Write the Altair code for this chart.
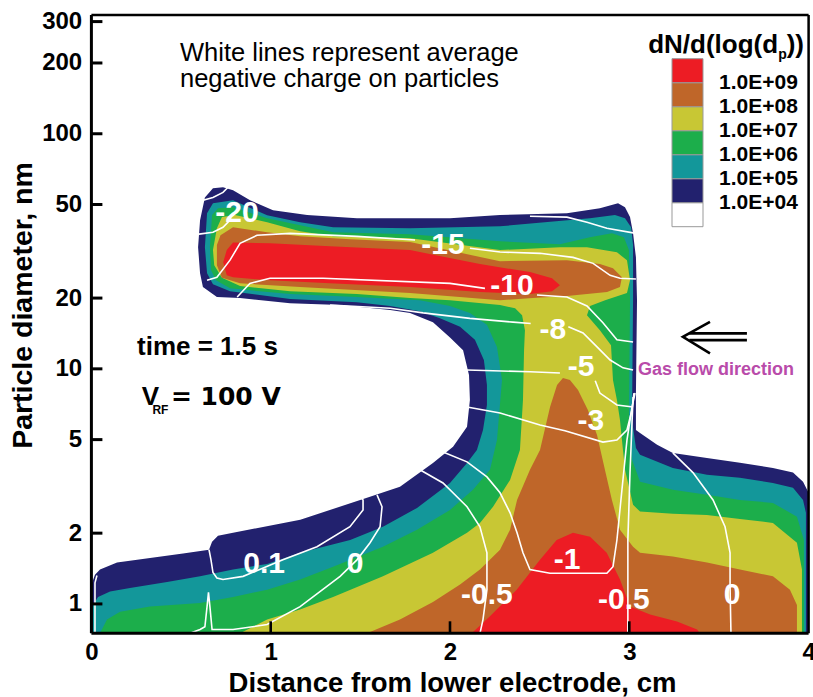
import altair as alt
import pandas as pd

W, H = 717.2, 618.3

# ---- filled contour regions of dN/d(log(dp)); x in cm, y in nm ----
NAVY = [(0, 0.75), (0, 1.21), (0.02, 1.33), (0.048, 1.40), (0.143, 1.50), (0.327, 1.57), (0.511, 1.64),
        (0.656, 1.70), (0.673, 1.84), (0.706, 1.95), (0.79, 2.01), (1.165, 2.28), (1.537, 2.83), (1.721, 3.15),
        (1.905, 3.98), (2.017, 4.66), (2.095, 5.67), (2.111, 7.37), (2.106, 9.41), (2.073, 12.0), (2.0, 13.6),
        (1.905, 15.8), (1.777, 17.3), (1.666, 17.8), (1.387, 18.7), (1.108, 19.0), (0.829, 20.0), (0.70, 20.2),
        (0.622, 22.3), (0.606, 25.5), (0.595, 32.9), (0.606, 42.9), (0.633, 53.6), (0.678, 58.6), (0.734, 59.2),
        (0.79, 57.5), (0.885, 52.1), (1.013, 47.3), (1.203, 45.1), (1.481, 43.7), (2.0, 43.7), (2.279, 45.1),
        (2.652, 45.9), (2.836, 48.2), (2.937, 50.6), (2.976, 48.7), (3.004, 44.2), (3.021, 37.7), (3.037, 29.8),
        (3.043, 19.6), (3.037, 7.89), (3.037, 5.49), (3.06, 5.34), (3.155, 4.75), (3.243, 4.39), (3.433, 4.18),
        (3.617, 3.99), (3.801, 3.79), (3.913, 3.62), (3.969, 3.31), (4.0, 2.97), (4.0, 0.75)]
TEAL = [(0.009, 0.75), (0.009, 0.99), (0.037, 1.07), (0.104, 1.13), (0.215, 1.17), (0.422, 1.24), (0.606, 1.31),
        (0.79, 1.40), (0.98, 1.48), (1.164, 1.65), (1.443, 1.87), (1.626, 2.13), (1.816, 2.56), (2.0, 3.27),
        (2.095, 3.98), (2.15, 4.52), (2.184, 5.49), (2.206, 7.02), (2.206, 8.53), (2.189, 10.9), (2.139, 13.3),
        (2.056, 15.1), (1.944, 16.4), (1.832, 17.6), (1.666, 18.5), (1.481, 19.2), (1.108, 19.8), (0.773, 21.4),
        (0.678, 22.9), (0.645, 25.5), (0.633, 32.9), (0.645, 45.9), (0.678, 50.6), (0.79, 52.1), (0.98, 45.0),
        (1.164, 42.0), (1.348, 40.0), (1.777, 39.6), (2.279, 40.4), (2.78, 43.7), (2.92, 45.1), (2.976, 43.7),
        (3.01, 40.0), (3.021, 33.6), (3.021, 19.6), (3.015, 6.06), (3.037, 4.61), (3.06, 4.31), (3.243, 3.79),
        (3.433, 3.54), (3.617, 3.44), (3.801, 3.27), (3.913, 3.12), (3.969, 2.77), (3.985, 2.44), (3.985, 0.75)]
GREEN = [(0.048, 0.75), (0.087, 0.858), (0.16, 0.927), (0.327, 0.974), (0.606, 1.01), (0.79, 1.07), (0.98, 1.15),
         (1.164, 1.27), (1.348, 1.44), (1.626, 1.75), (1.816, 2.07), (2.0, 2.51), (2.128, 3.06), (2.223, 3.72),
         (2.262, 4.98), (2.29, 8.96), (2.262, 12.4), (2.206, 15.4), (2.111, 17.3), (2.0, 18.5), (1.832, 19.6),
         (1.481, 20.2), (1.108, 20.8), (0.773, 22.0), (0.695, 23.8), (0.667, 26.3), (0.661, 32.9), (0.673, 45.1),
         (0.706, 48.2), (0.79, 48.7), (0.98, 43.7), (1.164, 40.8), (1.348, 38.1), (1.777, 37.4), (2.279, 34.9),
         (2.613, 33.9), (2.78, 36.3), (2.903, 37.7), (2.97, 36.3), (2.998, 32.0), (3.004, 19.6), (2.998, 6.06),
         (3.015, 4.10), (3.06, 3.31), (3.243, 3.06), (3.433, 2.91), (3.617, 2.77), (3.801, 2.69), (3.935, 2.35),
         (3.974, 1.87), (3.974, 0.75)]
YELLOW = [(0.829, 0.75), (0.98, 0.858), (1.164, 0.946), (1.348, 1.07), (1.626, 1.31), (1.905, 1.65), (2.095, 2.01),
          (2.167, 2.21), (2.24, 2.59), (2.335, 3.37), (2.39, 4.52), (2.407, 7.37), (2.413, 12.0), (2.418, 14.6),
          (2.402, 16.9), (2.363, 18.1), (2.279, 18.7), (2.0, 19.6), (1.777, 20.0), (1.481, 20.8), (1.108, 21.4),
          (0.829, 22.5), (0.728, 24.4), (0.685, 27.6), (0.678, 32.0), (0.70, 39.6), (0.728, 44.2), (0.801, 45.1),
          (0.98, 42.0), (1.164, 38.5), (1.348, 36.6), (1.777, 35.9), (2.279, 32.0), (2.613, 32.9), (2.764, 32.9),
          (2.931, 31.3), (2.987, 29.0), (3.004, 23.8), (2.987, 21.0), (2.865, 19.6), (2.781, 18.5), (2.764, 16.9),
          (2.836, 14.6), (2.898, 12.6), (2.909, 8.96), (2.931, 7.37), (2.948, 6.06), (2.959, 4.98), (2.976, 3.72),
          (3.021, 2.64), (3.06, 2.47), (3.243, 2.42), (3.433, 2.39), (3.617, 2.30), (3.801, 2.21), (3.935, 1.82),
          (3.963, 1.40), (3.963, 0.75)]
BROWN_ARM = [(0.70, 33.6), (0.72, 37.0), (0.79, 40.0), (0.98, 38.1), (1.164, 36.6), (1.443, 35.6), (1.777, 34.6),
             (2.279, 28.7), (2.652, 29.0), (2.836, 27.9), (2.909, 26.8), (2.959, 24.5), (2.948, 22.3), (2.876, 21.2),
             (2.652, 20.4), (2.462, 20.0), (2.279, 19.6), (1.777, 21.0), (1.164, 22.3), (0.829, 23.1), (0.728, 24.4),
             (0.70, 27.6)]
BROWN_LOW = [(1.537, 0.75), (1.721, 0.858), (1.905, 1.02), (2.056, 1.21), (2.167, 1.40), (2.279, 1.70), (2.335, 2.07),
             (2.374, 2.77), (2.446, 3.72), (2.502, 4.52), (2.558, 6.88), (2.597, 8.53), (2.63, 9.14), (2.669, 8.96),
             (2.714, 8.13), (2.769, 6.68), (2.82, 5.23), (2.864, 3.72), (2.903, 2.77), (2.948, 2.07), (3.021, 1.75),
             (3.06, 1.65), (3.243, 1.59), (3.433, 1.50), (3.617, 1.40), (3.801, 1.31), (3.896, 1.15), (3.935, 0.99),
             (3.935, 0.75)]
RED_ARM = [(0.735, 28.4), (0.755, 32.0), (0.79, 34.5), (0.996, 34.2), (1.33, 33.2), (1.777, 32.0), (2.167, 27.9),
           (2.446, 25.8), (2.569, 24.3), (2.613, 22.7), (2.569, 21.4), (2.446, 20.8), (2.167, 21.2), (1.777, 22.3),
           (1.33, 23.1), (0.996, 23.8), (0.79, 24.5), (0.755, 25.0)]
RED_LOW = [(2.121, 0.75), (2.223, 0.886), (2.372, 1.15), (2.502, 1.54), (2.595, 1.87), (2.686, 2.01), (2.781, 1.93),
           (2.874, 1.65), (2.948, 1.27), (3.004, 0.974), (3.116, 0.901), (3.266, 0.841), (3.378, 0.778), (3.394, 0.75)]

LEVELS = [4, 5, 6, 7, 8, 9]          # log10 of dN/d(log(dp)) thresholds
LEVEL_COLORS = ["#FFFFFF", "#22216E", "#13979A", "#1CAE4B", "#C8C734", "#BF6629", "#ED1C24"]
REGIONS = [(4, [NAVY]), (5, [TEAL]), (6, [GREEN]), (7, [YELLOW]), (8, [BROWN_ARM, BROWN_LOW]), (9, [RED_ARM, RED_LOW])]

# ---- white lines: average negative charge ----
CHARGE_LINES = {
    "m20a": [(0.623, 52.1), (0.678, 53.6), (0.734, 56.3), (0.762, 59.2)],
    "m20b": [(0.600, 37.4), (0.678, 38.1), (0.734, 40.0), (0.773, 42.9)],
    "m20c": [(2.446, 44.6), (2.652, 44.2), (2.764, 42.0), (2.875, 39.6), (3.037, 37.7)],
    "m15a": [(0.645, 23.8), (0.700, 24.5), (0.773, 29.0), (0.829, 34.2), (0.924, 37.0), (1.108, 37.7), (1.481, 36.6),
             (1.805, 35.3)],
    "m15b": [(2.111, 32.6), (2.279, 31.4), (2.502, 31.0), (2.686, 29.8), (2.798, 28.1), (2.893, 25.0), (2.948, 24.3),
             (3.037, 24.1)],
    "m10a": [(0.813, 20.2), (0.884, 23.1), (0.996, 24.3), (1.292, 24.3), (2.0, 23.1), (2.195, 22.0)],
    "m10b": [(2.485, 20.6), (2.652, 20.2), (2.764, 18.5), (2.853, 15.7), (2.931, 13.3), (3.021, 13.0)],
    "m8a": [(1.331, 18.7), (1.666, 18.1), (1.850, 17.3), (2.111, 16.4), (2.351, 15.8), (2.45, 15.6)],
    "m8b": [(2.66, 15.1), (2.742, 14.2), (2.820, 12.4), (2.893, 10.9), (2.965, 10.1), (3.021, 9.88)],
    "m5a": [(2.095, 9.88), (2.446, 9.72), (2.613, 9.60)],
    "m5b": [(2.810, 8.9), (2.836, 7.89), (2.931, 7.02), (3.021, 6.88)],
    "m3": [(2.095, 6.88), (2.279, 6.49), (2.502, 5.77), (2.641, 5.45), (2.853, 4.88), (2.931, 4.98), (2.987, 5.49),
           (3.015, 6.68), (3.026, 7.89)],
    "m1": [(1.961, 4.43), (2.095, 4.02), (2.206, 3.47), (2.279, 2.97), (2.335, 2.44), (2.374, 2.01), (2.407, 1.65),
           (2.446, 1.40), (2.558, 1.35), (2.875, 1.35), (2.909, 1.44), (2.931, 1.87), (2.959, 3.06), (2.987, 4.98),
           (3.015, 6.88), (3.032, 7.89)],
    "m05L": [(1.832, 3.72), (1.961, 3.27), (2.095, 2.59), (2.167, 2.13), (2.206, 1.65), (2.206, 1.15), (2.184, 0.858),
             (2.167, 0.75)],
    "m05R": [(3.021, 7.59), (3.004, 3.62), (2.992, 1.87), (2.992, 0.75)],
    "z0R": [(3.243, 4.39), (3.355, 3.62), (3.467, 2.77), (3.534, 2.13), (3.562, 1.65), (3.562, 1.18), (3.567, 0.75)],
    "p01": [(0.656, 1.70), (0.667, 1.54), (0.678, 1.36), (0.700, 1.29), (0.734, 1.27), (0.846, 1.31), (1.068, 1.54),
            (1.258, 1.75), (1.442, 2.13), (1.515, 2.51), (1.515, 2.77), (1.498, 2.88)],
    "z0L": [(0.550, 0.75), (0.606, 0.778), (0.633, 0.80), (0.645, 0.974), (0.653, 1.12), (0.661, 0.974), (0.673, 0.778),
            (0.790, 0.778), (0.980, 0.817), (1.164, 0.974), (1.387, 1.31), (1.481, 1.54), (1.554, 1.82), (1.610, 2.13),
            (1.621, 2.59), (1.593, 2.91)],
    "z0E": [(0.020, 0.75), (0.020, 1.23), (0.031, 1.32)],
}
LINE_LABELS = ["-20", "-15", "-10", "-8", "-5", "-3", "-1", "-0.5", "-0.5", "0", "0.1", "0"]
LABEL_X = [0.812, 1.961, 2.346, 2.574, 2.731, 2.786, 2.653, 2.206, 2.970, 3.573, 0.963, 1.470]
LABEL_Y = [45.9, 33.6, 22.5, 14.6, 10.2, 6.0, 1.54, 1.095, 1.043, 1.095, 1.483, 1.483]

# ---- gas-flow arrow (double-line arrow) ----
ARROW = {
    "head": [(3.45, 15.85), (3.299, 13.69), (3.45, 11.64)],
    "shaft1": [(3.335, 14.15), (3.656, 14.15)],
    "shaft2": [(3.335, 13.25), (3.656, 13.25)],
}

X_TICKS = [0, 1, 2, 3, 4]
Y_TICKS = [1, 2, 5, 10, 20, 50, 100, 200, 300]

# ---------------- build tables ----------------
rows = []
for lev, parts in REGIONS:
    for k, pts in enumerate(parts):
        for i, (x, y) in enumerate(list(pts) + [pts[0]]):
            rows.append({"lev": lev, "part": f"{lev}_{k}", "i": i, "x": x, "y": y})
poly_df = pd.DataFrame(rows)


def lines_df(d):
    r = []
    for name, pts in d.items():
        for i, (x, y) in enumerate(pts):
            r.append({"seg": name, "i": i, "x": x, "y": y})
    return pd.DataFrame(r)


charge_df = lines_df(CHARGE_LINES)
arrow_df = lines_df(ARROW)
label_df = pd.DataFrame({"text": LINE_LABELS, "x": LABEL_X, "y": LABEL_Y})

FONT = "Liberation Sans"


def X():
    return alt.X("x:Q", scale=alt.Scale(domain=[0, 4], nice=False, zero=False),
                 axis=alt.Axis(values=X_TICKS, format="d", title="Distance from lower electrode, cm",
                               grid=False, ticks=False, domain=False, labelFont=FONT, labelFontWeight="bold",
                               labelFontSize=24, labelColor="black", labelPadding=7, labelFlush=False,
                               labelOverlap=False, titleFont=FONT, titleFontWeight="bold", titleFontSize=27.5,
                               titleColor="black", titleX=360.6, titleY=58.5, titleBaseline="alphabetic",
                               titleAlign="center", zindex=1))


def Y():
    return alt.Y("y:Q", scale=alt.Scale(type="log", domain=[0.75, 320], nice=False),
                 axis=alt.Axis(values=Y_TICKS, format="d", title="Particle diameter, nm",
                               grid=False, ticks=False, domain=False, labelFont=FONT, labelFontWeight="bold",
                               labelFontSize=24, labelColor="black", labelPadding=9.7, labelOverlap=False,
                               titleFont=FONT, titleFontWeight="bold", titleFontSize=28.5, titleColor="black",
                               titleAngle=270, titleX=-59.7, titleY=290, titleBaseline="alphabetic",
                               titleAlign="center", zindex=1))


COLOR = alt.Color("lev:Q",
                  scale=alt.Scale(type="threshold", domain=LEVELS, range=LEVEL_COLORS),
                  legend=alt.Legend(type="gradient", orient="none", legendX=580.6, legendY=43.7,
                                    direction="vertical", title=None, gradientLength=168,
                                    gradientThickness=31, gradientStrokeColor="#999999",
                                    gradientStrokeWidth=1, labelFont=FONT, labelFontWeight="bold",
                                    labelFontSize=21, labelColor="black", labelOffset=16,
                                    labelOverlap=False,
                                    labelExpr="isFinite(datum.value) ? '1.0E+0' + datum.value : ''",
                                    padding=0))

poly_layers = []
for lev in LEVELS:
    poly_layers.append(
        alt.Chart(poly_df).transform_filter(alt.datum.lev == lev)
        .mark_line(filled=True, clip=True, interpolate="linear")
        .encode(x=X(), y=Y(), color=COLOR, detail="part:N", order="i:Q")
    )

charge = alt.Chart(charge_df).mark_line(color="white", strokeWidth=1.6, clip=True).encode(
    x=X(), y=Y(), detail="seg:N", order="i:Q")
labels = alt.Chart(label_df).mark_text(font=FONT, fontWeight="bold", fontSize=30, color="white",
                                       align="center", baseline="middle").encode(x=X(), y=Y(), text="text:N")
arrow = alt.Chart(arrow_df).mark_line(color="black", strokeWidth=2.6).encode(
    x=X(), y=Y(), detail="seg:N", order="i:Q")

yticks = alt.Chart(pd.DataFrame({"y": Y_TICKS})).mark_rule(color="black", strokeWidth=3).encode(
    y=Y(), x=alt.value(0), x2=alt.value(11))
xticks = alt.Chart(pd.DataFrame({"x": X_TICKS[1:-1]})).mark_rule(color="black", strokeWidth=2.6).encode(
    x=X(), y=alt.value(H), y2=alt.value(H - 12))

ANCHOR = pd.DataFrame({"a": [0]})


def note(text, px, py, size, weight="bold", font=FONT, align="left", color="black", line_height=None):
    kw = dict(text=text, font=font, fontSize=size, fontWeight=weight, align=align,
              baseline="alphabetic", color=color)
    if line_height:
        kw["lineHeight"] = line_height
    return alt.Chart(ANCHOR).mark_text(**kw).encode(x=alt.value(px), y=alt.value(py))


notes = [
    note(["White lines represent average", "negative charge on particles"], 88.6, 46, 25.5,
         weight="normal", line_height=26),
    note("time = 1.5 s", 45.6, 340, 26),
    note("V", 50.3, 390, 26),
    note("RF", 61, 399, 12),
    note("= 100 V", 79.5, 390, 25, font="DejaVu Sans"),
    note("Gas flow direction", 546.6, 360, 18, color="#B94BAA"),
    note("dN/d(log(d", 686.7, 38.3, 26, align="right"),
    note("p", 695.3, 43.5, 14, align="right"),
    note("))", 712.6, 38.3, 26, align="right"),
]

frame = [
    alt.Chart(ANCHOR).mark_rule(color="black", strokeWidth=3).encode(
        x=alt.value(0), y=alt.value(0), y2=alt.value(H)),
    alt.Chart(ANCHOR).mark_rule(color="black", strokeWidth=3).encode(
        x=alt.value(0), x2=alt.value(W), y=alt.value(H)),
    alt.Chart(ANCHOR).mark_rule(color="black", strokeWidth=2.5).encode(
        x=alt.value(0), x2=alt.value(W), y=alt.value(0)),
    alt.Chart(ANCHOR).mark_rule(color="black", strokeWidth=2.5).encode(
        x=alt.value(W), y=alt.value(0), y2=alt.value(H)),
]

chart = alt.layer(*poly_layers, charge, labels, arrow, yticks, xticks, *notes, *frame).properties(
    width=W, height=H,
    autosize=alt.AutoSizeParams(type="none"),
    padding={"left": 91.4, "top": 15, "right": 4.4, "bottom": 63.7},
    background="white",
).configure_view(stroke=None)

chart.save("out.html", embed_options={"renderer": "svg", "actions": False})
